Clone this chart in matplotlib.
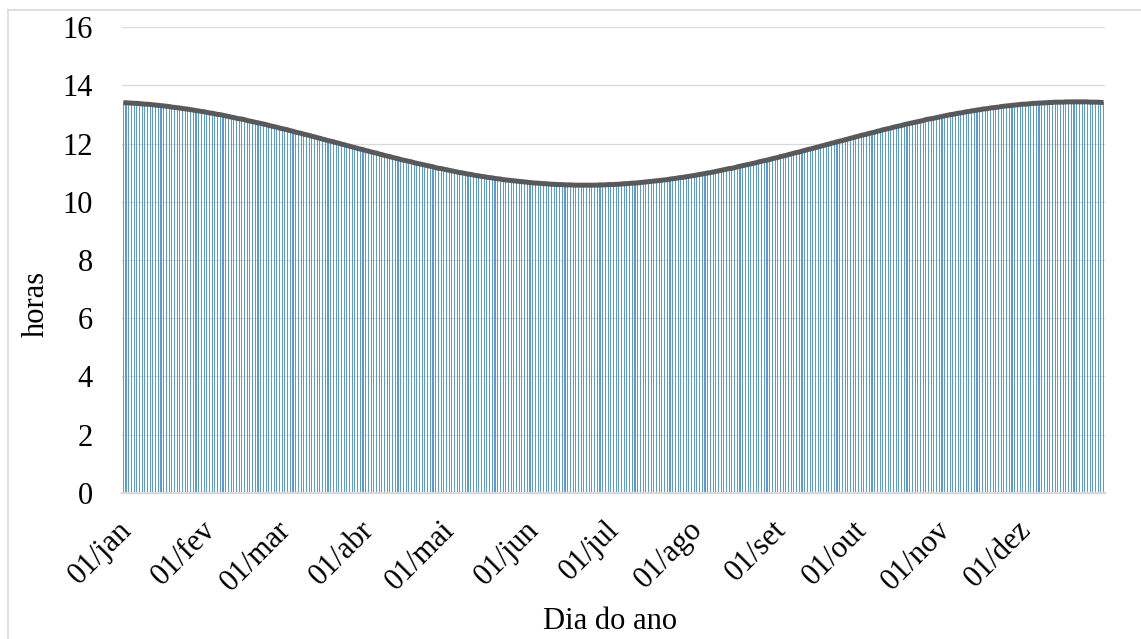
import numpy as np
import matplotlib

matplotlib.use("Agg")
import matplotlib.pyplot as plt
from matplotlib.lines import Line2D
from matplotlib.transforms import ScaledTranslation

plt.rcParams["font.family"] = ["Liberation Serif", "DejaVu Serif"]
plt.rcParams["font.size"] = 22

# daylight hours, one value per day of the year
jan = [13.40, 13.40, 13.39, 13.39, 13.38, 13.38, 13.37, 13.36, 13.35, 13.35, 13.34,
       13.33, 13.32, 13.31, 13.30, 13.29, 13.28, 13.27, 13.25, 13.24, 13.23, 13.22,
       13.20, 13.19, 13.18, 13.16, 13.15, 13.13, 13.12, 13.10, 13.09]
fev = [13.07, 13.05, 13.04, 13.02, 13.00, 12.99, 12.97, 12.95, 12.93, 12.91, 12.89,
       12.87, 12.85, 12.84, 12.82, 12.79, 12.77, 12.75, 12.73, 12.71, 12.69, 12.67,
       12.65, 12.62, 12.60, 12.58, 12.56, 12.53]
mar = [12.51, 12.49, 12.47, 12.44, 12.42, 12.39, 12.37, 12.35, 12.32, 12.30, 12.28,
       12.25, 12.23, 12.20, 12.18, 12.15, 12.13, 12.10, 12.08, 12.06, 12.03, 12.01,
       11.98, 11.96, 11.93, 11.91, 11.88, 11.86, 11.83, 11.81, 11.79]
abr = [11.76, 11.74, 11.71, 11.69, 11.67, 11.64, 11.62, 11.59, 11.57, 11.55, 11.52,
       11.50, 11.48, 11.45, 11.43, 11.41, 11.39, 11.37, 11.34, 11.32, 11.30, 11.28,
       11.26, 11.24, 11.22, 11.20, 11.17, 11.15, 11.14, 11.12]
mai = [11.10, 11.08, 11.06, 11.04, 11.02, 11.00, 10.99, 10.97, 10.95, 10.94, 10.92,
       10.90, 10.89, 10.87, 10.86, 10.84, 10.83, 10.82, 10.80, 10.79, 10.78, 10.76,
       10.75, 10.74, 10.73, 10.72, 10.71, 10.70, 10.69, 10.68, 10.67]
jun = [10.66, 10.65, 10.64, 10.64, 10.63, 10.62, 10.62, 10.61, 10.60, 10.60, 10.59,
       10.59, 10.59, 10.58, 10.58, 10.58, 10.57, 10.57, 10.57, 10.57, 10.57, 10.57,
       10.57, 10.57, 10.57, 10.57, 10.58, 10.58, 10.58, 10.59]
jul = [10.59, 10.59, 10.60, 10.60, 10.61, 10.62, 10.62, 10.63, 10.64, 10.64, 10.65,
       10.66, 10.67, 10.68, 10.69, 10.70, 10.71, 10.72, 10.73, 10.74, 10.75, 10.76,
       10.78, 10.79, 10.80, 10.82, 10.83, 10.84, 10.86, 10.87, 10.89]
ago = [10.90, 10.92, 10.94, 10.95, 10.97, 10.99, 11.00, 11.02, 11.04, 11.06, 11.08,
       11.10, 11.12, 11.14, 11.15, 11.17, 11.20, 11.22, 11.24, 11.26, 11.28, 11.30,
       11.32, 11.34, 11.37, 11.39, 11.41, 11.43, 11.45, 11.48, 11.50]
set_ = [11.52, 11.55, 11.57, 11.59, 11.62, 11.64, 11.67, 11.69, 11.71, 11.74, 11.76,
        11.79, 11.81, 11.83, 11.86, 11.88, 11.91, 11.93, 11.96, 11.98, 12.01, 12.03,
        12.06, 12.08, 12.10, 12.13, 12.15, 12.18, 12.20, 12.23]
out = [12.25, 12.28, 12.30, 12.32, 12.35, 12.37, 12.39, 12.42, 12.44, 12.47, 12.49,
       12.51, 12.53, 12.56, 12.58, 12.60, 12.62, 12.65, 12.67, 12.69, 12.71, 12.73,
       12.75, 12.77, 12.79, 12.82, 12.84, 12.85, 12.87, 12.89, 12.91]
nov = [12.93, 12.95, 12.97, 12.99, 13.00, 13.02, 13.04, 13.05, 13.07, 13.09, 13.10,
       13.12, 13.13, 13.15, 13.16, 13.18, 13.19, 13.20, 13.22, 13.23, 13.24, 13.25,
       13.27, 13.28, 13.29, 13.30, 13.31, 13.32, 13.33, 13.34]
dez = [13.35, 13.35, 13.36, 13.37, 13.38, 13.38, 13.39, 13.39, 13.40, 13.40, 13.41,
       13.41, 13.42, 13.42, 13.42, 13.42, 13.43, 13.43, 13.43, 13.43, 13.43, 13.43,
       13.43, 13.43, 13.43, 13.42, 13.42, 13.42, 13.42, 13.41, 13.41]

months = [jan, fev, mar, abr, mai, jun, jul, ago, set_, out, nov, dez]
month_labels = ["01/jan", "01/fev", "01/mar", "01/abr", "01/mai", "01/jun",
                "01/jul", "01/ago", "01/set", "01/out", "01/nov", "01/dez"]

hours = np.concatenate(months)
days = np.arange(len(hours))
month_starts = np.concatenate([[0], np.cumsum([len(m) for m in months])[:-1]])

fig = plt.figure(figsize=(11.41, 6.39), dpi=100)
ax = fig.add_axes([0.1069, 0.2285, 0.8615, 0.7292])

ax.bar(days, hours, width=0.4, color="#5B9BD5", linewidth=0, zorder=2)
ax.plot(days, hours, color="#595959", linewidth=3.6, solid_capstyle="butt", zorder=3)

ax.set_xlim(-0.5, len(hours) - 0.5)
ax.set_ylim(0, 16)
ax.set_yticks(np.arange(0, 17, 2))
ax.yaxis.grid(True, color="#D9D9D9", linewidth=0.9, zorder=0)
ax.set_axisbelow(True)

for side in ["top", "right", "left"]:
    ax.spines[side].set_visible(False)
ax.spines["bottom"].set_color("#D9D9D9")
ax.spines["bottom"].set_linewidth(1.6)
ax.spines["bottom"].set_zorder(4)

ax.tick_params(axis="y", length=0, pad=21, labelsize=22)
ax.tick_params(axis="x", length=0, pad=16, labelsize=22)
ax.set_xticks(month_starts)
ax.set_xticklabels(month_labels, rotation=45, ha="right", va="top",
                   rotation_mode="anchor")
# nudge the slanted labels so their ends sit on the month ticks
shift = ScaledTranslation(-6 / 100, 0, fig.dpi_scale_trans)
for lbl in ax.get_xticklabels():
    lbl.set_transform(lbl.get_transform() + shift)

fig.text(0.032, 0.525, "horas", rotation=90, ha="center", va="center", fontsize=22)
fig.text(0.535, 0.027, "Dia do ano", ha="center", va="center", fontsize=22)

# light frame around the chart
fig.add_artist(Line2D([8 / 1141, 8 / 1141], [0, 1 - 10 / 639],
                      transform=fig.transFigure, color="#D9D9D9", linewidth=1.2))
fig.add_artist(Line2D([8 / 1141, 1], [1 - 10 / 639, 1 - 10 / 639],
                      transform=fig.transFigure, color="#D9D9D9", linewidth=1.2))

fig.savefig("out.png", dpi=100)
plt.close()
